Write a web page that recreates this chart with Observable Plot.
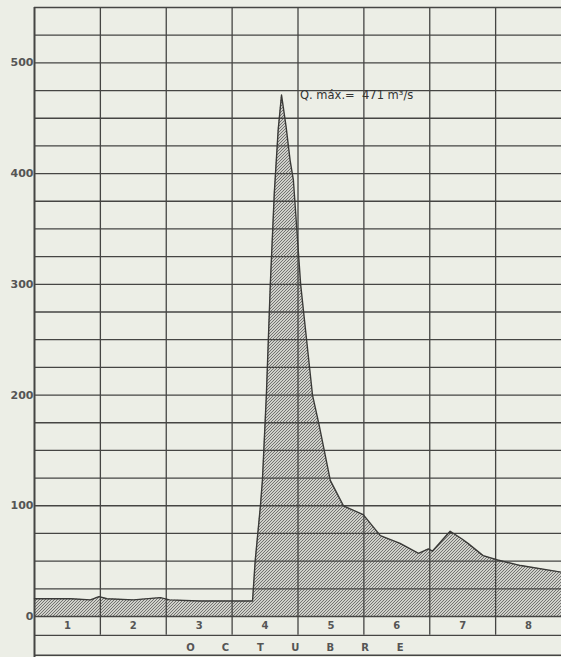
<!DOCTYPE html>
<html>
<head>
<meta charset="utf-8">
<script src="https://cdn.jsdelivr.net/npm/d3@7"></script>
<script src="https://cdn.jsdelivr.net/npm/@observablehq/plot@0.6"></script>
<style>
  html, body { margin: 0; padding: 0; background: #eceee6; }
  #chart svg { display: block; }
</style>
</head>
<body>
<div id="chart"></div>
<script>
// Discharge (m3/s) over October days; x in days from start of day 1
const days = [0, 0.25, 0.55, 0.85, 0.98, 1.1, 1.5, 1.91, 2.05, 2.5, 3.0, 3.31, 3.35, 3.43, 3.46, 3.52, 3.58, 3.64, 3.70, 3.75, 3.82, 3.88, 3.93, 4.04, 4.22, 4.32, 4.49, 4.69, 4.80, 4.99, 5.25, 5.55, 5.83, 5.98, 6.04, 6.31, 6.49, 6.58, 6.81, 7.03, 7.38, 8.0];
const flow = [16, 16, 16, 15, 18, 16, 15, 17, 15, 14, 14, 14, 50, 100, 123, 200, 300, 382, 440, 471, 442, 412, 394, 300, 200, 173, 123, 100, 97, 92, 73, 66, 57, 61, 59, 77, 70, 66, 55, 51, 46, 40];

const dayLabels = ["1", "2", "3", "4", "5", "6", "7", "8"];
const monthLabel = "OCTUBRE";
const yTicks = [0, 100, 200, 300, 400, 500];
const peakLabel = "Q. máx.=  471 m³/s";
const peakValue = 471;

const data = days.map((d, i) => ({day: d, q: flow[i]}));
const gridY = d3.range(0, 551, 25);
const dayEdges = d3.range(1, 8);
const dayCenters = dayLabels.map((t, i) => ({t, x: i + 0.5}));
const letters = monthLabel.split("").map((t, i) => ({t, x: 3.96 + (i - 3) * 0.53}));

const ink = "#454543";

const chart = Plot.plot({
  width: 561,
  height: 657,
  marginLeft: 34,
  marginRight: 0,
  marginTop: 7,
  marginBottom: 41,
  style: {background: "transparent", fontFamily: "DejaVu Sans, sans-serif", color: ink},
  x: {domain: [0, 8], axis: null},
  y: {domain: [0, 550], axis: null},
  marks: [
    Plot.areaY(data, {x: "day", y: "q", fill: "url(#hatch)", curve: "linear"}),
    Plot.ruleY(gridY, {stroke: ink, strokeWidth: 1.3}),
    Plot.ruleY([-17, -35], {stroke: ink, strokeWidth: 1.3}),
    Plot.ruleX(dayEdges, {y1: -17, y2: 550, stroke: ink, strokeWidth: 1.3}),
    Plot.ruleX([0], {y1: -38, y2: 550, stroke: ink, strokeWidth: 2}),
    Plot.lineY(data, {x: "day", y: "q", stroke: "#3a3a38", strokeWidth: 1.4}),
    Plot.axisY(yTicks, {tickSize: 0, tickPadding: 1, fontSize: 11, fontWeight: "bold", fill: "#555", label: null, tickFormat: d => String(d)}),
    Plot.text(dayCenters, {x: "x", y: -8, text: "t", fontSize: 10, fontWeight: "bold", fill: "#555"}),
    Plot.text(letters, {x: "x", y: -28, text: "t", fontSize: 10, fontWeight: "bold", fill: "#555"}),
    Plot.text([peakLabel], {x: 4.03, y: peakValue, text: d => d, textAnchor: "start", fontSize: 11.5, fill: "#333"})
  ]
});

const svg = chart.tagName.toLowerCase() === "svg" ? chart : chart.querySelector("svg");
const defs = d3.select(svg).insert("defs", ":first-child");
const pat = defs.append("pattern")
  .attr("id", "hatch").attr("patternUnits", "userSpaceOnUse")
  .attr("width", 3).attr("height", 3);
pat.append("rect").attr("width", 3).attr("height", 3).attr("fill", "#cfd0ca");
pat.append("path").attr("d", "M-1,1 L1,-1 M0,3 L3,0 M2,4 L4,2")
  .attr("stroke", "#5c5c5a").attr("stroke-width", 0.8);
document.getElementById("chart").appendChild(chart);
</script>
</body>
</html>
